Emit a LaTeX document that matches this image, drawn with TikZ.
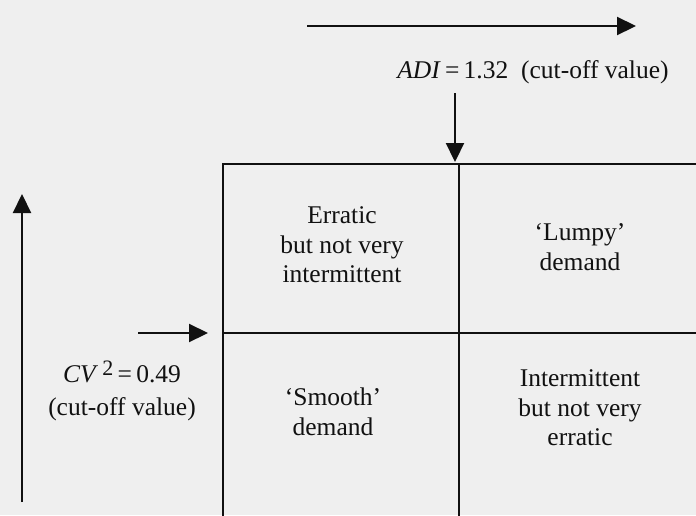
\documentclass[tikz,border=0pt]{standalone}
\usepackage{fontspec}
\setmainfont{Liberation Serif}
\usetikzlibrary{arrows.meta}
\definecolor{paper}{HTML}{EFEFEF}
\definecolor{inkc}{HTML}{111111}
\begin{document}
\begin{tikzpicture}[x=1pt,y=-1pt,
  ink/.style={draw=inkc, line width=2.2pt},
  arr/.style={ink, -{Triangle[length=19pt,width=18pt]}},
  celltext/.style={align=center, font=\fontsize{25.5}{29.5}\selectfont, text=inkc, inner sep=0pt}]
\fill[paper] (0,0) rectangle (696,515);
\useasboundingbox (0,0) rectangle (696,515);
% grid
\coordinate (tl) at (223,164);
\coordinate (br) at (720,540);
\coordinate (mt) at (459,164);
\coordinate (mb) at (459,540);
\coordinate (ml) at (223,333);
\coordinate (mr) at (720,333);
\begin{scope}
\clip (0,0) rectangle (696,515);
\draw[ink] (tl) rectangle (br);
\draw[ink] (mt) -- (mb);
\draw[ink] (ml) -- (mr);
\end{scope}
% cell texts
\node[celltext] (c1) at (342,245) {Erratic\\but not very\\intermittent};
\node[celltext] (c2) at (580,247) {`Lumpy'\\demand};
\node[celltext] (c3) at (333,412) {`Smooth'\\demand};
\node[celltext] (c4) at (580,408) {Intermittent\\but not very\\erratic};
% labels
\node[celltext] (adi) at (533,72) {\textit{ADI}\,=\,1.32\ \ (cut-off value)};
\node[celltext, font=\fontsize{25.5}{33}\selectfont] (cv) at (122,391) {\textit{CV}\,\raisebox{0.3em}{\fontsize{22}{22}\selectfont 2}\,=\,0.49\\(cut-off value)};
% arrows
\coordinate (ta) at (307,26);
\coordinate (tb) at (636,26);
\coordinate (da) at (455,93);
\coordinate (db) at (455,162);
\coordinate (la) at (22,502);
\coordinate (lb) at (22,194);
\coordinate (sa) at (138,333);
\coordinate (sb) at (208,333);
\draw[arr] (ta) -- (tb);
\draw[arr] (da) -- (db);
\draw[arr] (la) -- (lb);
\draw[arr] (sa) -- (sb);
\end{tikzpicture}
\end{document}
